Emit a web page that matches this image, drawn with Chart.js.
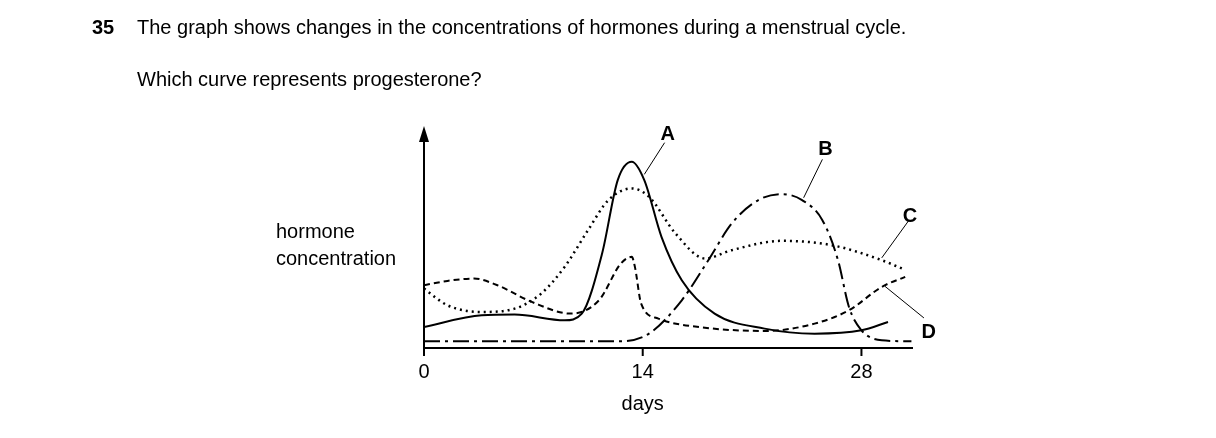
<!DOCTYPE html>
<html>
<head>
<meta charset="utf-8">
<script src="https://cdn.jsdelivr.net/npm/chart.js@4"></script>
<style>
body { margin: 0; background: #fff; }
</style>
</head>
<body>
<canvas id="chart" width="1216" height="438"></canvas>
<script>
// days / hormone concentration (arbitrary units)
const daysA = [0, 3.7, 5.8, 9, 10.1, 11.4, 12.4, 13.3, 14.1, 15.2, 16.5, 18.6, 21.8, 25, 28, 29.7];
const valsA = [63, 98, 100, 83, 103, 283, 503, 558, 503, 333, 203, 103, 58, 43, 53, 78];
const daysB = [0, 6, 12.5, 14.4, 16.5, 18.2, 19.7, 21.4, 22.9, 24.2, 25.5, 26.5, 27.2, 28, 29.3, 31.2];
const valsB = [20, 20, 20, 43, 143, 263, 373, 443, 461, 443, 383, 263, 123, 53, 23, 20];
const daysC = [0, 1.5, 3.7, 5.8, 7.5, 9, 10.5, 11.8, 13.3, 14.4, 16.1, 18, 19.7, 22.9, 26.1, 29.3, 30.6];
const valsC = [178, 128, 108, 118, 163, 243, 353, 443, 478, 453, 343, 268, 293, 321, 308, 263, 238];
const daysD = [0, 1.5, 3.2, 4.7, 6.9, 9.4, 11.2, 12.6, 13.3, 13.5, 13.9, 15, 17.6, 21.8, 25, 27.2, 29.3, 30.8];
const valsD = [188, 201, 208, 188, 138, 103, 143, 253, 273, 243, 133, 88, 63, 51, 73, 113, 183, 213];
const xTicks = [0, 14, 28];
const curveLabels = ["A", "B", "C", "D"];

function pts(xs, ys) {
    return xs.map(function (x, i) { return { x: x, y: ys[i] }; });
}

const font = '"Liberation Sans", Arial, sans-serif';

const overlay = {
    id: 'overlay',
    afterDraw: function (chart) {
        const ctx = chart.ctx;
        const xs = chart.scales.x, ys = chart.scales.y;
        const x0 = xs.getPixelForValue(0), y0 = ys.getPixelForValue(0);
        ctx.save();
        ctx.strokeStyle = '#000';
        ctx.fillStyle = '#000';
        ctx.lineWidth = 2;
        ctx.setLineDash([]);
        // axes
        ctx.beginPath();
        ctx.moveTo(x0, y0);
        ctx.lineTo(xs.right, y0);
        ctx.moveTo(x0, y0);
        ctx.lineTo(x0, chart.chartArea.top + 8);
        ctx.stroke();
        ctx.beginPath();
        ctx.moveTo(x0, chart.chartArea.top - 4);
        ctx.lineTo(x0 - 5, chart.chartArea.top + 12);
        ctx.lineTo(x0 + 5, chart.chartArea.top + 12);
        ctx.closePath();
        ctx.fill();
        // ticks
        ctx.font = '20px ' + font;
        ctx.textAlign = 'center';
        ctx.textBaseline = 'top';
        xTicks.forEach(function (t) {
            const px = xs.getPixelForValue(t);
            ctx.beginPath();
            ctx.moveTo(px, y0);
            ctx.lineTo(px, y0 + 8);
            ctx.stroke();
            ctx.fillText(String(t), px, y0 + 14);
        });
        ctx.fillText('days', xs.getPixelForValue(14), y0 + 46);
        // leader lines for the curve labels
        ctx.lineWidth = 1;
        const leaders = [
            [[14.1, 520], [15.4, 615], [15.6, 640]],
            [[24.3, 450], [25.5, 565], [25.7, 595]],
            [[29.3, 270], [31, 380], [31.1, 395]],
            [[29.5, 185], [32, 90], [32.3, 45]]
        ];
        ctx.font = 'bold 20px ' + font;
        ctx.textBaseline = 'middle';
        leaders.forEach(function (l, i) {
            ctx.beginPath();
            ctx.moveTo(xs.getPixelForValue(l[0][0]), ys.getPixelForValue(l[0][1]));
            ctx.lineTo(xs.getPixelForValue(l[1][0]), ys.getPixelForValue(l[1][1]));
            ctx.stroke();
            ctx.fillText(curveLabels[i], xs.getPixelForValue(l[2][0]), ys.getPixelForValue(l[2][1]));
        });
        // question text
        ctx.textAlign = 'left';
        ctx.fillText('35', 92, 28);
        ctx.font = '20px ' + font;
        ctx.fillText('The graph shows changes in the concentrations of hormones during a menstrual cycle.', 137, 28);
        ctx.fillText('Which curve represents progesterone?', 137, 80);
        ctx.fillText('hormone', 276, 232);
        ctx.fillText('concentration', 276, 259);
        ctx.restore();
    }
};

function ds(data, dash, width) {
    return {
        data: data,
        borderColor: '#000',
        borderWidth: width,
        borderDash: dash,
        pointRadius: 0,
        fill: false,
        tension: 0.4,
        cubicInterpolationMode: 'monotone'
    };
}

new Chart(document.getElementById('chart'), {
    type: 'line',
    data: {
        datasets: [
            ds(pts(daysA, valsA), [], 2),
            ds(pts(daysB, valsB), [16, 5, 3, 5], 2),
            ds(pts(daysC, valsC), [2, 4], 2.5),
            ds(pts(daysD, valsD), [6, 4], 2)
        ]
    },
    options: {
        responsive: false,
        animation: false,
        devicePixelRatio: 1,
        layout: { padding: { left: 424, right: 303, top: 130, bottom: 90 } },
        plugins: { legend: { display: false }, tooltip: { enabled: false } },
        scales: {
            x: { type: 'linear', min: 0, max: 31.3, display: false },
            y: { min: 0, max: 653, display: false }
        }
    },
    plugins: [overlay]
});
</script>
</body>
</html>
